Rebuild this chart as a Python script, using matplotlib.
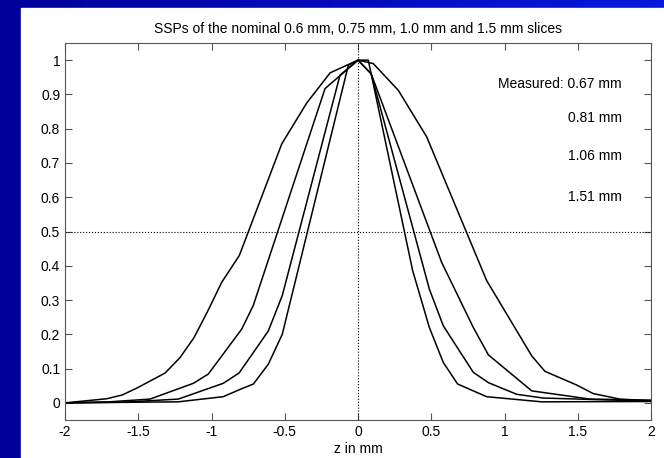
import numpy as np
import matplotlib.pyplot as plt
from matplotlib.colors import LinearSegmentedColormap
from matplotlib.patches import Rectangle

plt.rcParams['font.family'] = ['Liberation Sans', 'DejaVu Sans']

# slice sensitivity profiles (z in mm, relative signal)
z_151 = [-2.0, -1.715, -1.61, -1.51, -1.317, -1.215, -1.12, -1.03, -0.93, -0.81,
         -0.52, -0.35, -0.19, 0.0, 0.104, 0.275, 0.469, 0.878, 1.186, 1.276,
         1.493, 1.606, 1.788, 2.0]
s_151 = [0.0, 0.012, 0.023, 0.043, 0.087, 0.132, 0.19, 0.264, 0.352, 0.43,
         0.756, 0.875, 0.963, 1.0, 0.99, 0.912, 0.776, 0.357, 0.137, 0.092,
         0.052, 0.027, 0.011, 0.006]

z_106 = [-2.0, -1.7, -1.42, -1.124, -1.022, -0.794, -0.715, -0.225, 0.0, 0.09,
         0.571, 0.787, 0.89, 1.186, 1.584, 2.0]
s_106 = [0.0, 0.003, 0.011, 0.057, 0.084, 0.215, 0.284, 0.917, 1.0, 0.96,
         0.41, 0.22, 0.14, 0.035, 0.011, 0.008]

z_081 = [-2.0, -1.6, -1.227, -0.92, -0.812, -0.714, -0.612, -0.517, -0.123, 0.0,
         0.09, 0.487, 0.582, 0.787, 0.89, 1.083, 1.265, 2.0]
s_081 = [0.0, 0.002, 0.011, 0.057, 0.087, 0.147, 0.21, 0.313, 0.956, 1.0,
         0.96, 0.332, 0.225, 0.089, 0.059, 0.025, 0.014, 0.005]

z_067 = [-2.0, -1.227, -0.92, -0.812, -0.714, -0.612, -0.517, -0.066, 0.0, 0.07,
         0.373, 0.487, 0.582, 0.68, 0.878, 1.254, 2.0]
s_067 = [0.0, 0.003, 0.018, 0.038, 0.055, 0.113, 0.2, 0.985, 1.0, 1.0,
         0.386, 0.22, 0.118, 0.055, 0.018, 0.003, 0.004]

labels = ['Measured: 0.67 mm', '0.81 mm', '1.06 mm', '1.51 mm']
label_y = [0.93, 0.83, 0.72, 0.60]

fig = plt.figure(figsize=(6.64, 4.58), dpi=100, facecolor='white')

# blue slide background with white panel
bg = fig.add_axes([0, 0, 1, 1], zorder=-2)
bg.set_axis_off()
cmap = LinearSegmentedColormap.from_list('slide', ['#00009a', '#0818dc'])
bg.imshow(np.linspace(0, 1, 256)[None, :], aspect='auto', cmap=cmap,
          extent=[0, 1, 0, 1])
bg.add_patch(Rectangle((21 / 664, 0), 1, 1 - 8 / 458, color='white'))
bg.set_xlim(0, 1)
bg.set_ylim(0, 1)

ax = fig.add_axes([65 / 664, 38 / 458, 586 / 664, 377 / 458])
for z, s in [(z_151, s_151), (z_106, s_106), (z_081, s_081), (z_067, s_067)]:
    ax.plot(z, s, color='black', lw=1.1)

ax.axvline(0, color='black', ls=':', lw=0.8)
ax.axhline(0.5, color='black', ls=':', lw=0.8)

for lab, y in zip(labels, label_y):
    ax.text(1.80, y, lab, ha='right', va='center', fontsize=10)

ax.set_xlim(-2, 2)
ax.set_ylim(-0.05, 1.05)
ax.set_xticks(np.arange(-2, 2.01, 0.5))
ax.set_xticklabels(['-2', '-1.5', '-1', '-0.5', '0', '0.5', '1', '1.5', '2'])
ax.set_yticks(np.arange(0, 1.01, 0.1))
ax.set_yticklabels(['0', '0.1', '0.2', '0.3', '0.4', '0.5', '0.6', '0.7',
                    '0.8', '0.9', '1'])
ax.tick_params(direction='in', top=True, right=True, labelsize=10,
               length=5, width=0.8, color='#555555')
for sp in ax.spines.values():
    sp.set_color('#555555')
    sp.set_linewidth(0.8)

ax.set_title('SSPs of the nominal 0.6 mm, 0.75 mm, 1.0 mm and 1.5 mm slices',
             fontsize=10, pad=7)
ax.set_xlabel('z in mm', fontsize=10, labelpad=2)

fig.savefig('out.png', dpi=100)
